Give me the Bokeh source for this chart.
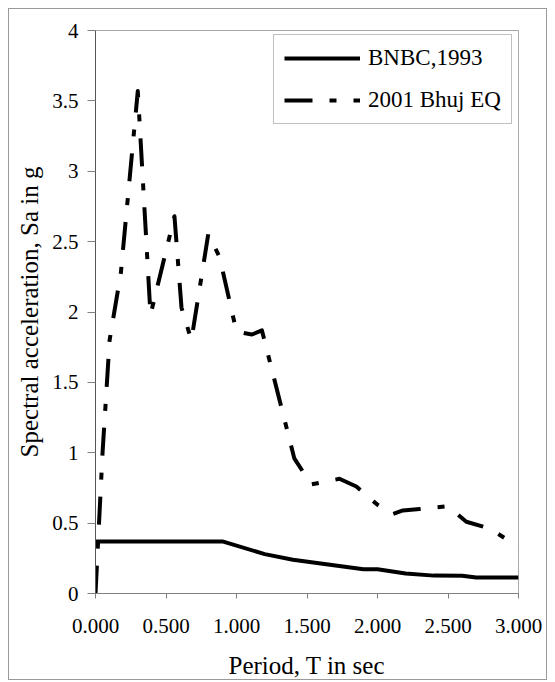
from bokeh.plotting import figure
from bokeh.models import Range1d, Legend, LegendItem, FixedTicker, CustomJSTickFormatter
from bokeh.embed import file_html
from bokeh.resources import INLINE

# ---- data ----
series_names = ["BNBC,1993", "2001 Bhuj EQ"]

bnbc_T = [0.0, 0.9, 1.2, 1.4, 1.9, 2.0, 2.2, 2.4, 2.6, 2.7, 3.0]
bnbc_Sa = [0.37, 0.37, 0.28, 0.24, 0.173, 0.172, 0.142, 0.127, 0.126, 0.113, 0.113]

bhuj_T = [0.0, 0.05, 0.10, 0.18, 0.30, 0.39, 0.56, 0.61, 0.68, 0.80, 0.88, 1.00,
          1.11, 1.18, 1.41, 1.53, 1.73, 1.85, 2.00, 2.11, 2.18, 2.30, 2.50, 2.63,
          2.80, 3.00]
bhuj_Sa = [0.0, 1.0, 1.80, 2.28, 3.57, 1.98, 2.68, 2.03, 1.80, 2.555, 2.39, 1.86,
           1.84, 1.87, 0.96, 0.775, 0.815, 0.76, 0.63, 0.565, 0.59, 0.60, 0.62, 0.51,
           0.46, 0.33]

x_ticks = [0.0, 0.5, 1.0, 1.5, 2.0, 2.5, 3.0]
x_tick_labels = ["0.000", "0.500", "1.000", "1.500", "2.000", "2.500", "3.000"]
y_ticks = [0.0, 0.5, 1.0, 1.5, 2.0, 2.5, 3.0, 3.5, 4.0]
y_tick_labels = ["0", "0.5", "1", "1.5", "2", "2.5", "3", "3.5", "4"]

x_title = "Period, T in sec"
y_title = "Spectral acceleration, Sa in g"

FONT = "Liberation Serif"

p = figure(
    width=539, height=672,
    x_range=Range1d(0, 3), y_range=Range1d(0, 4),
    output_backend="svg", toolbar_location=None,
    min_border_left=86, min_border_right=30, min_border_top=21, min_border_bottom=88,
    background_fill_color="white", border_fill_color="white",
    outline_line_color="#a8a8a8", outline_line_width=1,
    margin=(8, 0, 0, 8),
    styles={"border": "1px solid #9a9a9a"},
)
p.grid.visible = False

r1 = p.line(bnbc_T, bnbc_Sa, line_color="black", line_width=4, line_join="round")
r2 = p.line(bhuj_T, bhuj_Sa, line_color="black", line_width=4, line_join="round",
            line_dash="28 17 7 17")

fmt_code = """
const i = tvals.findIndex(t => Math.abs(t - tick) < 1e-9);
return i >= 0 ? tlabels[i] : '';
"""
p.xaxis.ticker = FixedTicker(ticks=x_ticks)
p.xaxis.formatter = CustomJSTickFormatter(args=dict(tvals=x_ticks, tlabels=x_tick_labels), code=fmt_code)
p.yaxis.ticker = FixedTicker(ticks=y_ticks)
p.yaxis.formatter = CustomJSTickFormatter(args=dict(tvals=y_ticks, tlabels=y_tick_labels), code=fmt_code)

p.xaxis.axis_label = x_title
p.yaxis.axis_label = y_title

for ax in (p.xaxis[0], p.yaxis[0]):
    ax.major_label_text_font = FONT
    ax.major_label_text_font_size = "21px"
    ax.major_label_text_color = "black"
    ax.axis_label_text_font = FONT
    ax.axis_label_text_font_size = "25px"
    ax.axis_label_text_font_style = "normal"
    ax.axis_label_text_color = "black"
    ax.minor_tick_line_color = None
    ax.major_tick_in = 0

p.xaxis.major_tick_out = 5
p.xaxis.axis_line_color = "#808080"
p.xaxis.major_tick_line_color = "#808080"
p.xaxis.major_label_standoff = 20
p.xaxis.axis_label_standoff = 16

p.yaxis.major_tick_out = 8
p.yaxis.axis_line_color = "#555555"
p.yaxis.major_tick_line_color = "#808080"
p.yaxis.major_label_standoff = 9
p.yaxis.axis_label_standoff = 6

legend = Legend(
    items=[LegendItem(label=series_names[0], renderers=[r1]),
           LegendItem(label=series_names[1], renderers=[r2])],
    location=(178, 469),
    label_text_font=FONT, label_text_font_size="23px", label_text_color="black",
    glyph_width=76, glyph_height=20, label_height=20, label_standoff=8,
    padding=10, spacing=16, margin=0,
    border_line_color="#808080", border_line_width=1,
    background_fill_color="white", background_fill_alpha=1.0,
)
p.add_layout(legend)

open("out.html", "w").write(file_html(p, INLINE))
